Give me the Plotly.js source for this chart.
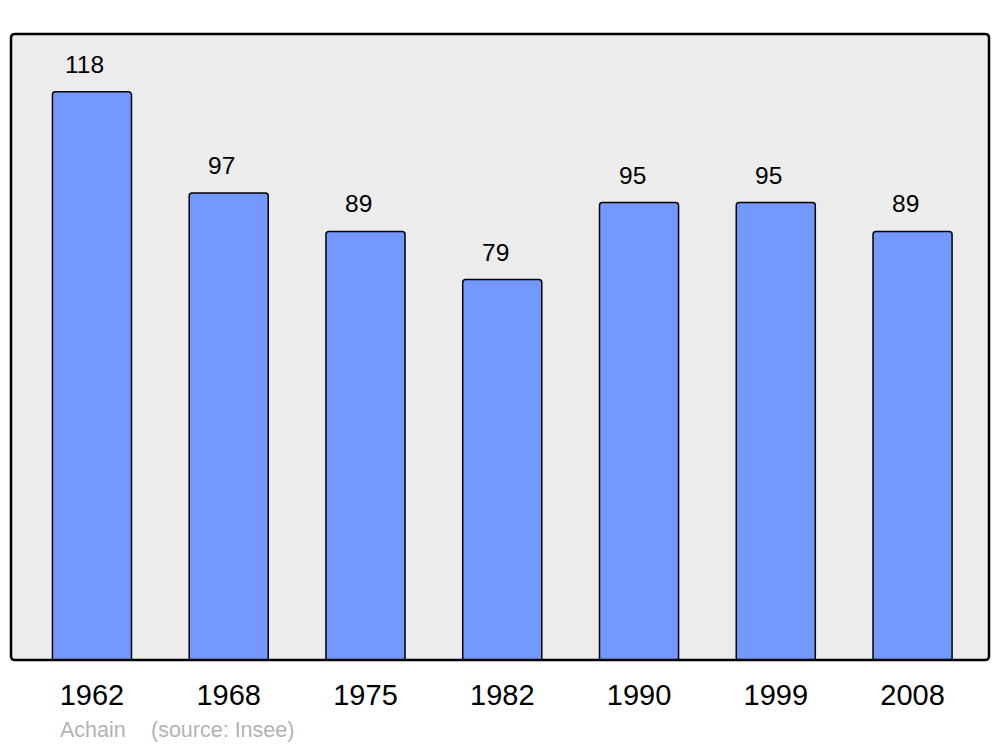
<!DOCTYPE html>
<html>
<head>
<meta charset="utf-8">
<script src="https://cdn.plot.ly/plotly-3.0.1.min.js"></script>
<style>html,body{margin:0;padding:0;background:#fff;}#chart{width:1000px;height:747px;}</style>
</head>
<body>
<div id="chart"></div>
<script>
const years = ["1962", "1968", "1975", "1982", "1990", "1999", "2008"];
const population = [118, 97, 89, 79, 95, 95, 89];
const commune = "Achain";
const source = "(source: Insee)";

const W = 1000, H = 747;
const m = {l: 11, r: 11, t: 34, b: 87};
const pw = W - m.l - m.r, ph = H - m.t - m.b;
const rx = 4 / pw, ry = 4 / ph;

const borderPath =
  `M ${rx},0 L ${1 - rx},0 Q 1,0 1,${ry} L 1,${1 - ry} Q 1,1 ${1 - rx},1 ` +
  `L ${rx},1 Q 0,1 0,${1 - ry} L 0,${ry} Q 0,0 ${rx},0 Z`;

const trace = {
  type: "bar",
  x: years,
  y: population,
  width: 0.578,
  marker: {color: "#7399ff", line: {color: "#000", width: 1.5}, cornerradius: 3},
  hoverinfo: "skip"
};

const annotations = years.map((yr, i) => ({
  x: i, y: population[i], xref: "x", yref: "y",
  text: String(population[i]), showarrow: false,
  yanchor: "bottom", yshift: 12, xshift: -7,
  font: {family: "Liberation Sans, Arial, sans-serif", size: 24.5, color: "#000"}
}));
annotations.push({
  xref: "paper", yref: "paper", x: (58 - m.l) / pw, y: -(730 - m.t - ph) / ph,
  xanchor: "left", yanchor: "middle", showarrow: false, text: commune,
  font: {family: "Liberation Sans, Arial, sans-serif", size: 21.5, color: "#b3b3b3"}
});
annotations.push({
  xref: "paper", yref: "paper", x: (149 - m.l) / pw, y: -(730 - m.t - ph) / ph,
  xanchor: "left", yanchor: "middle", showarrow: false, text: source,
  font: {family: "Liberation Sans, Arial, sans-serif", size: 21.5, color: "#b3b3b3"}
});

const layout = {
  width: W, height: H,
  margin: m,
  paper_bgcolor: "#ffffff",
  plot_bgcolor: "#ececec",
  showlegend: false,
  xaxis: {
    type: "category", range: [-0.592, 6.559],
    showgrid: false, zeroline: false, showline: false,
    ticks: "outside", ticklen: 9, tickcolor: "rgba(0,0,0,0)",
    tickfont: {family: "Liberation Sans, Arial, sans-serif", size: 29, color: "#000"},
    fixedrange: true
  },
  yaxis: {
    range: [0, 130], showgrid: false, zeroline: false, showline: false,
    showticklabels: false, ticks: "", fixedrange: true
  },
  shapes: [{
    type: "path", xref: "paper", yref: "paper", path: borderPath,
    line: {color: "#000", width: 2.5}, fillcolor: "rgba(0,0,0,0)", layer: "above"
  }],
  annotations: annotations
};

Plotly.newPlot("chart", [trace], layout, {displayModeBar: false, staticPlot: true});
</script>
</body>
</html>
